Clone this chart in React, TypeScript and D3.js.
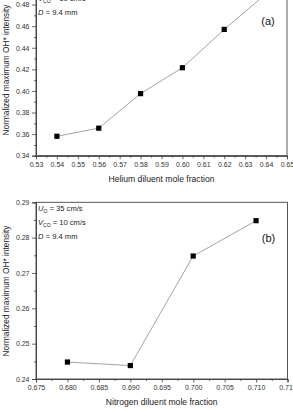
import React, { useEffect, useRef } from "react";
import * as d3 from "d3";

// panel (a): helium dilution
const heliumX = [0.54, 0.56, 0.58, 0.6, 0.62, 0.64];
const heliumY = [0.358, 0.3655, 0.3975, 0.4215, 0.457, 0.49];
// panel (b): nitrogen dilution
const nitrogenX = [0.68, 0.69, 0.7, 0.71];
const nitrogenY = [0.2448, 0.2438, 0.2748, 0.2848];

const heliumXTicks = d3.range(0.53, 0.6501, 0.01);
const heliumYTicks = [0.34, 0.36, 0.38, 0.4, 0.42, 0.44, 0.46, 0.48, 0.5];
const nitrogenXTicks = d3.range(0.675, 0.7151, 0.005);
const nitrogenYTicks = [0.24, 0.25, 0.26, 0.27, 0.28, 0.29];

const yTitle = "Normalized maximum OH* intensity";
const FONT = "Arial, 'Liberation Sans', sans-serif";

const Panel = (props: any) => {
  const ref = useRef(null);

  useEffect(() => {
    const g = d3.select(ref.current);
    g.selectAll("*").remove();
    const x = d3.scaleLinear().domain(props.xDomain).range([props.left, props.right]);
    const y = d3.scaleLinear().domain(props.yDomain).range([props.bottom, props.top]);

    // frame
    g.append("rect")
      .attr("x", props.left)
      .attr("y", props.top)
      .attr("width", props.right - props.left)
      .attr("height", props.bottom - props.top)
      .attr("fill", "none")
      .attr("stroke", "#444")
      .attr("stroke-width", 0.9);

    // minor ticks
    const xStep = props.xTicks[1] - props.xTicks[0];
    const yStep = props.yTicks[1] - props.yTicks[0];
    const xMinor = props.xTicks.slice(0, -1).map((t: number) => t + xStep / 2);
    const yMinor = props.yTicks.slice(0, -1).map((t: number) => t + yStep / 2);

    const xAxisMinor = d3.axisBottom(x).tickValues(xMinor).tickSize(2).tickFormat(() => "");
    const yAxisMinor = d3.axisLeft(y).tickValues(yMinor).tickSize(2).tickFormat(() => "");
    g.append("g").attr("transform", `translate(0,${props.bottom})`).call(xAxisMinor);
    g.append("g").attr("transform", `translate(${props.left},0)`).call(yAxisMinor);

    const xAxis = d3
      .axisBottom(x)
      .tickValues(props.xTicks)
      .tickSize(3.5)
      .tickPadding(2.5)
      .tickFormat(d3.format(props.xFormat));
    const yAxis = d3
      .axisLeft(y)
      .tickValues(props.yTicks)
      .tickSize(4)
      .tickPadding(2.5)
      .tickFormat(d3.format(props.yFormat));
    g.append("g").attr("transform", `translate(0,${props.bottom})`).call(xAxis);
    g.append("g").attr("transform", `translate(${props.left},0)`).call(yAxis);

    g.selectAll(".domain").attr("stroke", "#444").attr("stroke-width", 0.9);
    g.selectAll(".tick line").attr("stroke", "#444").attr("stroke-width", 0.8);
    g.selectAll(".tick text")
      .attr("fill", "#333")
      .style("font-size", "7px")
      .style("font-family", FONT);

    // data line and markers
    const pts = props.xs.map((v: number, i: number) => [x(v), y(props.ys[i])]);
    g.append("path")
      .attr("d", d3.line()(pts))
      .attr("fill", "none")
      .attr("stroke", "#999")
      .attr("stroke-width", 0.9);
    g.selectAll("rect.pt")
      .data(pts)
      .enter()
      .append("rect")
      .attr("class", "pt")
      .attr("x", (d: any) => d[0] - 2.6)
      .attr("y", (d: any) => d[1] - 2.6)
      .attr("width", 5.2)
      .attr("height", 5.2)
      .attr("fill", "#000");
  }, [props]);

  const annX = props.left + 2;
  const annY = props.annTop;
  return (
    <g>
      <g ref={ref} />
      <text
        x={(props.left + props.right) / 2}
        y={props.bottom + 26}
        textAnchor="middle"
        fontSize={8.6}
        fontFamily={FONT}
        fill="#222"
      >
        {props.xTitle}
      </text>
      <text
        transform={`translate(8.5,${props.yTitleCenter}) rotate(-90)`}
        textAnchor="middle"
        fontSize={8.3}
        fontFamily={FONT}
        fill="#222"
      >
        {yTitle}
      </text>
      <g fontSize={7.6} fontFamily={FONT} fill="#222">
        <text x={annX} y={annY}>
          <tspan fontStyle="italic">U</tspan>
          <tspan fontSize={5} dy={2}>O</tspan>
          <tspan dy={-2}> = 35 cm/s</tspan>
        </text>
        <text x={annX} y={annY + 14}>
          <tspan fontStyle="italic">V</tspan>
          <tspan fontSize={5} dy={2}>CO</tspan>
          <tspan dy={-2}> = 10 cm/s</tspan>
        </text>
        <text x={annX} y={annY + 28}>
          <tspan fontStyle="italic">D</tspan>
          <tspan> = 9.4 mm</tspan>
        </text>
      </g>
      <text
        x={props.right - 19}
        y={props.labelY}
        textAnchor="middle"
        fontSize={11}
        fontFamily={FONT}
        fill="#111"
      >
        {props.label}
      </text>
    </g>
  );
};

const App = () => {
  return (
    <svg
      width={293}
      height={410}
      style={{ position: "absolute", left: 0, top: 0, background: "#fff" }}
    >
      <Panel
        xs={heliumX}
        ys={heliumY}
        xDomain={[0.53, 0.65]}
        yDomain={[0.34, 0.5]}
        xTicks={heliumXTicks}
        yTicks={heliumYTicks}
        xFormat=".2f"
        yFormat=".2f"
        left={36}
        right={287}
        top={-17}
        bottom={155.7}
        annTop={-13}
        xTitle="Helium diluent mole fraction"
        yTitleCenter={70}
        label="(a)"
        labelY={25}
      />
      <Panel
        xs={nitrogenX}
        ys={nitrogenY}
        xDomain={[0.675, 0.715]}
        yDomain={[0.24, 0.29]}
        xTicks={nitrogenXTicks}
        yTicks={nitrogenYTicks}
        xFormat=".3f"
        yFormat=".2f"
        left={36}
        right={287.5}
        top={202.3}
        bottom={379}
        annTop={211}
        xTitle="Nitrogen diluent mole fraction"
        yTitleCenter={291}
        label="(b)"
        labelY={242}
      />
    </svg>
  );
};

export default App;
